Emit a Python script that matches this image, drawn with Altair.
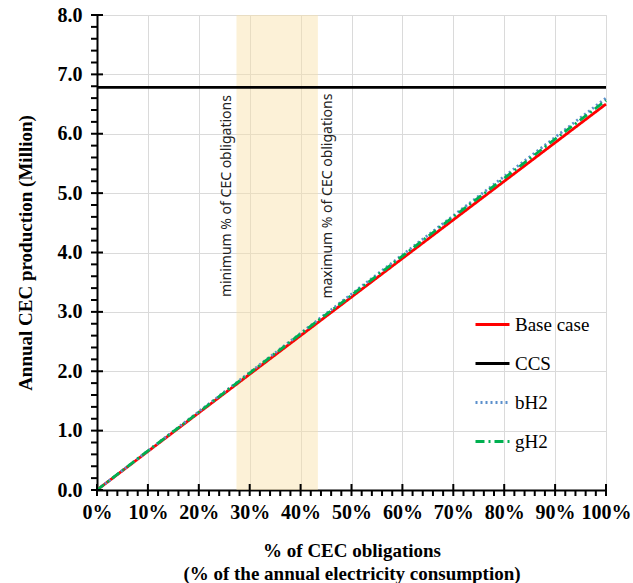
import altair as alt
import pandas as pd

# ---- data ----
x_pct = [0, 10, 20, 30, 40, 50, 60, 70, 80, 90, 100]
base_case = [0.00, 0.65, 1.30, 1.95, 2.60, 3.25, 3.90, 4.55, 5.20, 5.85, 6.50]
ccs = [6.78, 6.78, 6.78, 6.78, 6.78, 6.78, 6.78, 6.78, 6.78, 6.78, 6.78]
bh2 = [0.00, 0.66, 1.32, 1.98, 2.64, 3.30, 3.96, 4.62, 5.28, 5.94, 6.60]
gh2 = [0.00, 0.66, 1.31, 1.97, 2.63, 3.28, 3.94, 4.60, 5.25, 5.91, 6.56]
series_names = ["Base case", "CCS", "bH2", "gH2"]
series_colors = ["#FF0000", "#000000", "#5B8FCC", "#00B050"]
series_dash = [[1, 0], [1, 0], [2, 3], [9, 4, 2, 4]]

band_start = [27.4]
band_end = [43.4]
annot_text = ["minimum % of CEC obligations", "maximum % of CEC obligations"]
annot_x = [25.5, 45.4]
annot_y = [4.95, 4.95]

x_major = list(range(0, 101, 10))
x_minor = [v for v in range(0, 101, 2) if v % 10 != 0]
y_major = [0, 1, 2, 3, 4, 5, 6, 7, 8]
y_minor = [round(i * 0.2, 1) for i in range(0, 41) if i % 5 != 0]

W, H = 509, 475
SERIF = "Liberation Serif"

rows = []
for name, vals in zip(series_names, [base_case, ccs, bh2, gh2]):
    for xv, yv in zip(x_pct, vals):
        rows.append({"pct": xv, "value": yv, "series": name})
df = pd.DataFrame(rows)

xscale = alt.Scale(domain=[0, 100], nice=False, zero=True)
yscale = alt.Scale(domain=[0, 8], nice=False)

xaxis = alt.Axis(
    values=x_major, labelExpr="datum.value + '%'", ticks=False, grid=True,
    gridColor="#DADADA", gridWidth=1, domainColor="black", domainWidth=2,
    labelFont=SERIF, labelFontSize=20, labelFontWeight="bold", labelColor="black",
    labelPadding=12, labelOverlap=False, labelFlush=False,
    title=["% of CEC obligations", "(% of the annual electricity consumption)"],
    titleFont=SERIF, titleFontSize=19, titleFontWeight="bold", titleColor="black",
    titlePadding=19, titleLineHeight=23,
)
yaxis = alt.Axis(
    values=y_major, format=".1f", ticks=False, grid=True,
    gridColor="#DADADA", gridWidth=1, domainColor="black", domainWidth=2,
    labelFont=SERIF, labelFontSize=20, labelFontWeight="bold", labelColor="black",
    labelPadding=15, labelOverlap=False, labelFlush=False,
    title="Annual CEC production (Million)",
    titleFont=SERIF, titleFontSize=19, titleFontWeight="bold", titleColor="black",
    titlePadding=22,
)

def X(field="pct"):
    return alt.X(f"{field}:Q", scale=xscale, axis=xaxis)

def Y(field="value"):
    return alt.Y(f"{field}:Q", scale=yscale, axis=yaxis)

band = alt.Chart(pd.DataFrame({"pct": band_start, "pct_end": band_end})).mark_rect(
    color="#F8DFA6", opacity=0.45
).encode(x=X(), x2="pct_end:Q")

lines = alt.Chart(df).mark_line(strokeWidth=2.8).encode(
    x=X(), y=Y(),
    color=alt.Color("series:N", scale=alt.Scale(domain=series_names, range=series_colors),
                    legend=alt.Legend(title=None, orient="none", legendX=377, legendY=291,
                                      symbolType="stroke", symbolSize=1156,
                                      symbolStrokeWidth=3, labelFont=SERIF,
                                      labelFontSize=19, labelColor="black",
                                      labelOffset=4, rowPadding=10)),
    strokeDash=alt.StrokeDash("series:N",
                              scale=alt.Scale(domain=series_names, range=series_dash),
                              legend=None),
    order=alt.Order("pct:Q"),
    detail="series:N",
)

annots = alt.Chart(pd.DataFrame({"pct": annot_x, "value": annot_y, "txt": annot_text})).mark_text(
    angle=270, font="Noto Sans", fontSize=14, color="#222222", align="center", baseline="middle"
).encode(x=X(), y=Y(), text="txt:N")

ymaj = alt.Chart(pd.DataFrame({"value": y_major})).mark_rule(color="black", strokeWidth=2).encode(
    y=Y(), x=alt.value(-6), x2=alt.value(6))
ymin = alt.Chart(pd.DataFrame({"value": y_minor})).mark_rule(color="black", strokeWidth=2).encode(
    y=Y(), x=alt.value(-6), x2=alt.value(0))
xmaj = alt.Chart(pd.DataFrame({"pct": x_major})).mark_rule(color="black", strokeWidth=2).encode(
    x=X(), y=alt.value(H - 6), y2=alt.value(H + 6))
xmin = alt.Chart(pd.DataFrame({"pct": x_minor})).mark_rule(color="black", strokeWidth=2).encode(
    x=X(), y=alt.value(H), y2=alt.value(H + 6))

chart = alt.layer(band, lines, annots, ymaj, ymin, xmaj, xmin).properties(
    width=W, height=H,
    autosize=alt.AutoSizeParams(type="none"),
    padding={"left": 97, "top": 15, "right": 27, "bottom": 93},
).configure_view(stroke="black", strokeWidth=2).configure(background="white")

chart.save("out.html", embed_options={"renderer": "svg", "actions": False})
